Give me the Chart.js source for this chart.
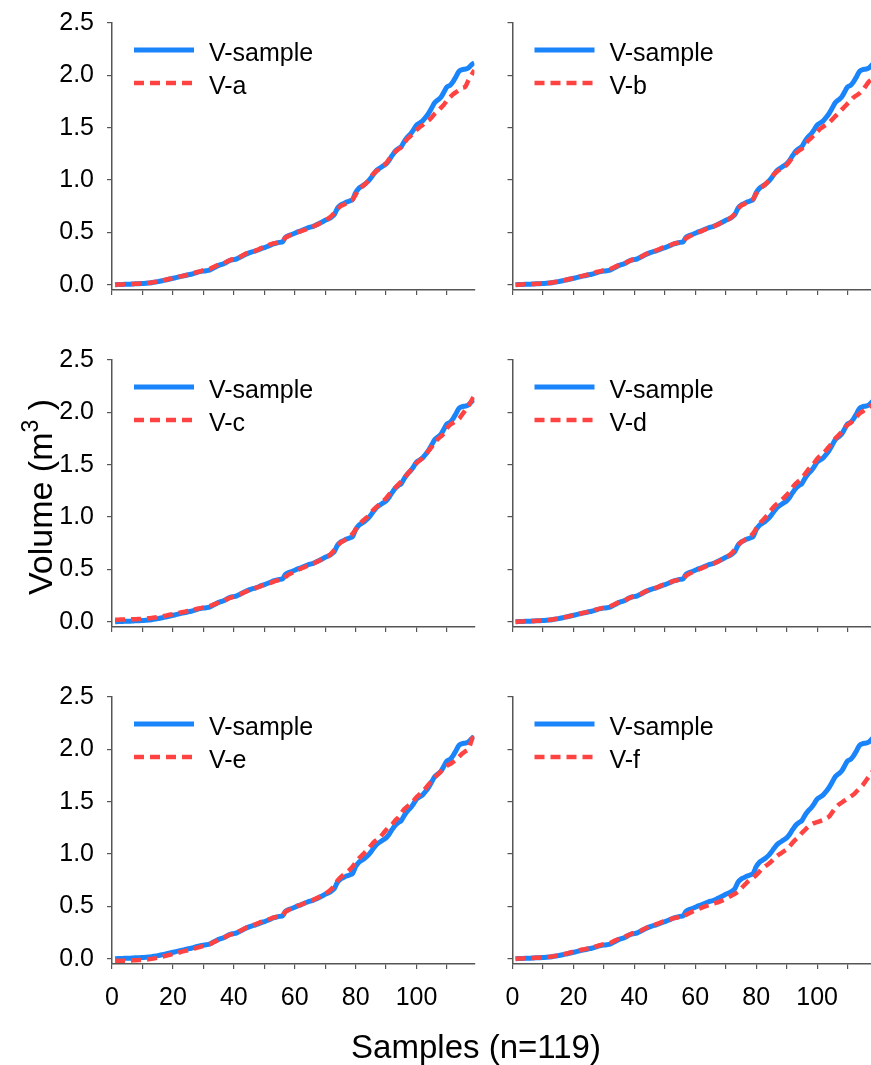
<!DOCTYPE html>
<html>
<head>
<meta charset="utf-8">
<script src="https://cdn.jsdelivr.net/npm/chart.js@4.4.1/dist/chart.umd.min.js"></script>
<style>
  html, body { margin: 0; padding: 0; background: #fff; overflow: hidden; width: 871px; height: 1065px; }
  body { position: relative; }
  canvas { position: absolute; }
  .title { position: absolute; font-family: 'Liberation Sans', Arial, sans-serif; color: #000; white-space: nowrap; text-align: center; }
</style>
</head>
<body>
<canvas id="pa" width="490" height="310" style="left:0;top:0"></canvas>
<canvas id="pb" width="385" height="310" style="left:490px;top:0"></canvas>
<canvas id="pc" width="490" height="310" style="left:0;top:337px"></canvas>
<canvas id="pd" width="385" height="310" style="left:490px;top:337px"></canvas>
<canvas id="pe" width="490" height="391" style="left:0;top:674px"></canvas>
<canvas id="pf" width="385" height="391" style="left:490px;top:674px"></canvas>

<div class="title" style="left:-110px;top:477px;width:300px;height:40px;line-height:40px;font-size:34px;transform:rotate(-90deg);">Volume (m<span style="font-size:23px;position:relative;top:-14px">3</span> )</div>
<div class="title" style="left:0;top:1028px;width:952px;line-height:38px;font-size:33px;">Samples (n=119)</div>

<script>
// Sample volumes (m3), samples 1..119
const vSample = [
  0.000, 0.002, 0.003, 0.004, 0.005, 0.006, 0.008, 0.009, 0.010, 0.012,
  0.014, 0.016, 0.020, 0.025, 0.030, 0.036, 0.042, 0.048, 0.055, 0.062,
  0.068, 0.075, 0.082, 0.088, 0.095, 0.100, 0.108, 0.118, 0.125, 0.130,
  0.134, 0.140, 0.155, 0.170, 0.185, 0.195, 0.205, 0.222, 0.235, 0.240,
  0.248, 0.262, 0.278, 0.292, 0.305, 0.315, 0.322, 0.332, 0.345, 0.355,
  0.365, 0.378, 0.390, 0.398, 0.405, 0.410, 0.455, 0.470, 0.480, 0.492,
  0.505, 0.515, 0.528, 0.540, 0.550, 0.558, 0.570, 0.585, 0.600, 0.615,
  0.628, 0.645, 0.670, 0.730, 0.760, 0.775, 0.790, 0.800, 0.815, 0.880,
  0.920, 0.940, 0.960, 0.985, 1.020, 1.060, 1.095, 1.115, 1.135, 1.155,
  1.190, 1.235, 1.275, 1.300, 1.320, 1.370, 1.410, 1.440, 1.480, 1.525,
  1.545, 1.565, 1.600, 1.640, 1.690, 1.740, 1.765, 1.790, 1.840, 1.890,
  1.905, 1.940, 1.990, 2.040, 2.055, 2.060, 2.070, 2.100, 2.120
];

const vA = [
  0.000, 0.002, 0.003, 0.004, 0.006, 0.007, 0.008, 0.010, 0.011, 0.013,
  0.015, 0.018, 0.022, 0.027, 0.032, 0.038, 0.044, 0.050, 0.057, 0.064,
  0.070, 0.077, 0.083, 0.090, 0.096, 0.103, 0.112, 0.122, 0.128, 0.140,
  0.145, 0.150, 0.165, 0.180, 0.192, 0.200, 0.210, 0.225, 0.238, 0.245,
  0.252, 0.265, 0.282, 0.298, 0.310, 0.318, 0.325, 0.335, 0.350, 0.362,
  0.372, 0.385, 0.395, 0.400, 0.410, 0.420, 0.450, 0.465, 0.478, 0.490,
  0.502, 0.512, 0.522, 0.532, 0.545, 0.555, 0.568, 0.582, 0.598, 0.618,
  0.632, 0.655, 0.685, 0.720, 0.750, 0.765, 0.780, 0.795, 0.815, 0.860,
  0.910, 0.935, 0.958, 0.990, 1.030, 1.065, 1.090, 1.110, 1.135, 1.160,
  1.200, 1.240, 1.270, 1.295, 1.315, 1.355, 1.395, 1.420, 1.450, 1.480,
  1.505, 1.525, 1.550, 1.570, 1.600, 1.635, 1.660, 1.690, 1.720, 1.760,
  1.790, 1.820, 1.840, 1.860, 1.880, 1.890, 1.950, 2.000, 2.050
];

const vB = [
  0.000, 0.001, 0.003, 0.004, 0.005, 0.007, 0.008, 0.009, 0.011, 0.013,
  0.015, 0.017, 0.021, 0.026, 0.031, 0.037, 0.043, 0.050, 0.057, 0.063,
  0.070, 0.078, 0.085, 0.092, 0.098, 0.105, 0.115, 0.124, 0.130, 0.138,
  0.142, 0.150, 0.162, 0.176, 0.188, 0.198, 0.208, 0.222, 0.236, 0.245,
  0.252, 0.265, 0.280, 0.296, 0.308, 0.318, 0.326, 0.338, 0.350, 0.360,
  0.370, 0.382, 0.393, 0.400, 0.408, 0.418, 0.445, 0.462, 0.475, 0.488,
  0.500, 0.512, 0.525, 0.538, 0.548, 0.558, 0.570, 0.585, 0.600, 0.615,
  0.628, 0.648, 0.680, 0.725, 0.755, 0.770, 0.785, 0.800, 0.820, 0.870,
  0.910, 0.935, 0.960, 0.990, 1.025, 1.060, 1.085, 1.105, 1.125, 1.145,
  1.180, 1.220, 1.255, 1.280, 1.300, 1.335, 1.375, 1.400, 1.430, 1.460,
  1.490, 1.510, 1.530, 1.550, 1.580, 1.610, 1.640, 1.670, 1.700, 1.730,
  1.760, 1.790, 1.810, 1.830, 1.860, 1.900, 1.940, 1.960, 1.990
];

const vC = [
  0.020, 0.020, 0.021, 0.022, 0.022, 0.023, 0.024, 0.025, 0.026, 0.028,
  0.030, 0.033, 0.036, 0.040, 0.045, 0.050, 0.055, 0.061, 0.067, 0.073,
  0.079, 0.085, 0.091, 0.097, 0.103, 0.109, 0.116, 0.124, 0.130, 0.136,
  0.142, 0.150, 0.160, 0.172, 0.184, 0.195, 0.206, 0.218, 0.230, 0.240,
  0.250, 0.262, 0.275, 0.288, 0.300, 0.310, 0.320, 0.332, 0.342, 0.352,
  0.362, 0.372, 0.382, 0.392, 0.400, 0.410, 0.430, 0.450, 0.465, 0.480,
  0.495, 0.508, 0.520, 0.532, 0.545, 0.555, 0.568, 0.582, 0.598, 0.612,
  0.628, 0.650, 0.685, 0.725, 0.755, 0.772, 0.790, 0.810, 0.840, 0.880,
  0.925, 0.955, 0.980, 1.005, 1.040, 1.075, 1.100, 1.125, 1.150, 1.180,
  1.215, 1.250, 1.280, 1.310, 1.340, 1.375, 1.410, 1.445, 1.480, 1.515,
  1.540, 1.565, 1.600, 1.635, 1.670, 1.710, 1.745, 1.770, 1.800, 1.850,
  1.880, 1.900, 1.920, 1.940, 1.980, 2.020, 2.060, 2.110, 2.160
];

const vD = [
  0.000, 0.002, 0.003, 0.004, 0.005, 0.007, 0.008, 0.009, 0.011, 0.013,
  0.015, 0.018, 0.021, 0.026, 0.031, 0.037, 0.043, 0.049, 0.056, 0.063,
  0.070, 0.077, 0.084, 0.090, 0.097, 0.104, 0.112, 0.121, 0.128, 0.135,
  0.140, 0.148, 0.160, 0.174, 0.187, 0.197, 0.207, 0.222, 0.235, 0.243,
  0.250, 0.264, 0.280, 0.295, 0.307, 0.316, 0.324, 0.335, 0.348, 0.358,
  0.368, 0.380, 0.390, 0.398, 0.404, 0.412, 0.440, 0.458, 0.472, 0.486,
  0.498, 0.510, 0.522, 0.535, 0.546, 0.556, 0.568, 0.584, 0.600, 0.616,
  0.632, 0.655, 0.690, 0.730, 0.760, 0.778, 0.795, 0.815, 0.845, 0.890,
  0.935, 0.965, 0.995, 1.030, 1.070, 1.105, 1.130, 1.155, 1.180, 1.210,
  1.245, 1.285, 1.320, 1.345, 1.370, 1.410, 1.450, 1.480, 1.515, 1.555,
  1.585, 1.610, 1.640, 1.675, 1.710, 1.750, 1.780, 1.810, 1.850, 1.880,
  1.900, 1.930, 1.960, 1.990, 2.010, 2.030, 2.050, 2.070, 2.090
];

const vE = [
  -0.020, -0.020, -0.019, -0.018, -0.017, -0.016, -0.015, -0.014, -0.012, -0.010,
  -0.008, -0.005, -0.001, 0.004, 0.010, 0.017, 0.024, 0.031, 0.038, 0.045,
  0.052, 0.060, 0.068, 0.075, 0.082, 0.090, 0.098, 0.106, 0.114, 0.124,
  0.132, 0.140, 0.152, 0.168, 0.182, 0.195, 0.207, 0.220, 0.232, 0.240,
  0.250, 0.264, 0.280, 0.296, 0.310, 0.320, 0.328, 0.340, 0.352, 0.362,
  0.372, 0.382, 0.392, 0.400, 0.408, 0.418, 0.450, 0.466, 0.480, 0.492,
  0.505, 0.516, 0.528, 0.540, 0.552, 0.562, 0.575, 0.590, 0.606, 0.622,
  0.640, 0.665, 0.700, 0.745, 0.775, 0.800, 0.825, 0.850, 0.880, 0.920,
  0.955, 0.985, 1.015, 1.045, 1.080, 1.115, 1.135, 1.160, 1.195, 1.230,
  1.260, 1.285, 1.320, 1.350, 1.390, 1.430, 1.455, 1.480, 1.510, 1.545,
  1.570, 1.595, 1.630, 1.665, 1.700, 1.735, 1.760, 1.790, 1.820, 1.845,
  1.860, 1.880, 1.900, 1.930, 1.960, 1.980, 2.000, 2.080, 2.150
];

const vF = [
  0.000, 0.002, 0.003, 0.004, 0.005, 0.007, 0.008, 0.010, 0.011, 0.013,
  0.015, 0.018, 0.022, 0.027, 0.032, 0.038, 0.045, 0.052, 0.060, 0.067,
  0.074, 0.081, 0.088, 0.094, 0.100, 0.106, 0.114, 0.124, 0.132, 0.140,
  0.145, 0.152, 0.165, 0.180, 0.192, 0.202, 0.212, 0.225, 0.238, 0.246,
  0.254, 0.266, 0.282, 0.297, 0.310, 0.320, 0.328, 0.338, 0.350, 0.360,
  0.370, 0.380, 0.388, 0.394, 0.400, 0.405, 0.420, 0.435, 0.450, 0.462,
  0.474, 0.486, 0.498, 0.508, 0.518, 0.526, 0.535, 0.546, 0.558, 0.572,
  0.588, 0.605, 0.620, 0.640, 0.670, 0.700, 0.730, 0.755, 0.775, 0.800,
  0.830, 0.860, 0.885, 0.905, 0.930, 0.960, 0.985, 1.005, 1.025, 1.045,
  1.075, 1.110, 1.140, 1.165, 1.200, 1.230, 1.260, 1.280, 1.295, 1.305,
  1.315, 1.325, 1.340, 1.360, 1.400, 1.440, 1.470, 1.490, 1.510, 1.530,
  1.550, 1.570, 1.600, 1.630, 1.660, 1.700, 1.740, 1.780, 1.820
];

// sample numbers on the x axis
const sampleNo = vSample.map((_, k) => k + 1);
const yTicks = [0, 0.5, 1, 1.5, 2, 2.5];

const BLUE = '#1a84fb';
const RED = '#ff4343';
const AXIS = '#555555';
const FONT = "'Liberation Sans', Arial, sans-serif";

// legend drawn inside the plot area, top-left
const panelLegend = {
  id: 'panelLegend',
  afterDatasetsDraw(chart) {
    const { ctx, chartArea } = chart;
    ctx.save();
    chart.data.datasets.forEach((ds, k) => {
      const y = chartArea.top + 27 + k * 33;
      const x0 = chartArea.left + 22;
      ctx.beginPath();
      ctx.setLineDash(ds.borderDash || []);
      ctx.lineWidth = ds.borderWidth;
      ctx.strokeStyle = ds.borderColor;
      ctx.moveTo(x0, y);
      ctx.lineTo(x0 + 60, y);
      ctx.stroke();
      ctx.setLineDash([]);
      ctx.fillStyle = '#000';
      ctx.font = '25px ' + FONT;
      ctx.textBaseline = 'alphabetic';
      ctx.fillText(ds.label, x0 + 75, y + 11);
    });
    ctx.restore();
  }
};

function points(values) {
  return values.map((v, k) => ({ x: sampleNo[k], y: v }));
}

function makePanel(id, label, values, col, bottomRow) {
  const canvas = document.getElementById(id);
  return new Chart(canvas, {
    type: 'line',
    data: {
      datasets: [
        { label: 'V-sample', data: points(vSample), borderColor: BLUE, borderWidth: 5,
          pointRadius: 0, tension: 0.3, order: 2 },
        { label: label, data: points(values), borderColor: RED, borderWidth: 4.5,
          borderDash: [10, 6], pointRadius: 0, tension: 0.3, order: 1 }
      ]
    },
    options: {
      responsive: false,
      animation: false,
      events: [],
      layout: { padding: { top: 23, left: 0, bottom: 0, right: col === 0 ? 15.6 : 0 } },
      plugins: { legend: { display: false }, tooltip: { enabled: false } },
      scales: {
        x: {
          type: 'linear',
          min: 0,
          max: 119,
          afterFit: s => {
            s.height = bottomRow ? 101 : 20;
            s.paddingLeft = 0;
            s.paddingRight = 0;
          },
          border: { display: true, color: AXIS, width: 1.5 },
          grid: { display: true, drawOnChartArea: false, drawTicks: true, tickLength: 5, color: AXIS, lineWidth: 1.2 },
          ticks: {
            display: bottomRow,
            stepSize: 10,
            includeBounds: false,
            autoSkip: false,
            maxRotation: 0,
            padding: 14,
            color: '#000',
            font: { family: FONT, size: 25 },
            callback: v => (v % 20 === 0 ? String(v) : '')
          }
        },
        y: {
          min: -0.05,
          max: 2.5,
          afterFit: s => {
            s.width = col === 0 ? 112 : 22.5;
            s.paddingTop = 0;
            s.paddingBottom = 0;
          },
          afterBuildTicks: s => { s.ticks = yTicks.map(v => ({ value: v })); },
          border: { display: true, color: AXIS, width: 1.5 },
          grid: { display: true, drawOnChartArea: false, drawTicks: true, tickLength: 5, color: AXIS, lineWidth: 1.2 },
          ticks: {
            display: col === 0,
            padding: 13,
            color: '#000',
            font: { family: FONT, size: 25 },
            callback: v => v.toFixed(1)
          }
        }
      }
    },
    plugins: [panelLegend]
  });
}

makePanel('pa', 'V-a', vA, 0, false);
makePanel('pb', 'V-b', vB, 1, false);
makePanel('pc', 'V-c', vC, 0, false);
makePanel('pd', 'V-d', vD, 1, false);
makePanel('pe', 'V-e', vE, 0, true);
makePanel('pf', 'V-f', vF, 1, true);
</script>
</body>
</html>
